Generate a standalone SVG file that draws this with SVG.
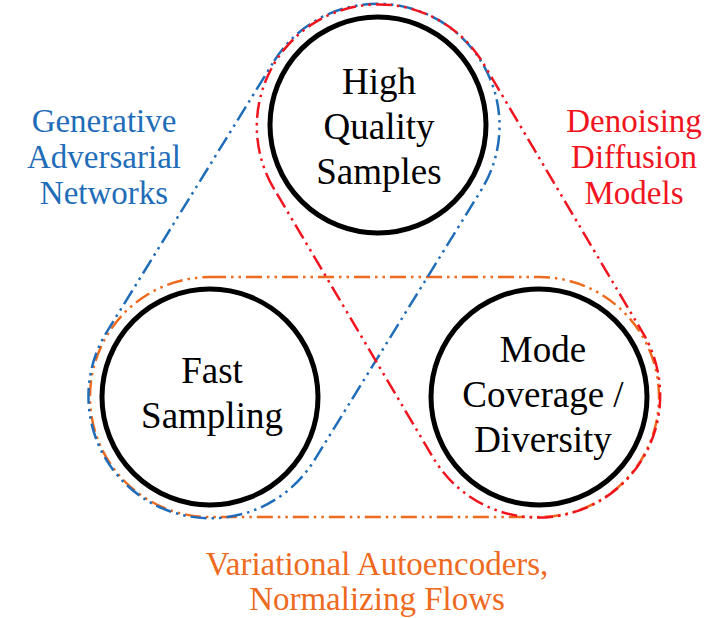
<svg xmlns="http://www.w3.org/2000/svg" width="708" height="618" viewBox="0 0 708 618">
<style>
.node circle{fill:#ffffff;stroke:#000000;stroke-width:5}
.hull{fill:none;stroke-width:2.5;stroke-dasharray:16 5 2.5 5 2.5 5}
.serif{font-family:"Liberation Serif","Times New Roman",Times,Tinos,"Noto Serif","DejaVu Serif",serif}
</style>
<rect width="708" height="618" fill="#ffffff"/>
<g id="nodes" class="serif" font-size="37" text-anchor="middle" fill="#000000">
<g id="node-high-quality" class="node">
<circle cx="378" cy="125" r="108"/>
<text x="379" y="94">High</text>
<text x="379" y="139">Quality</text>
<text x="379" y="184">Samples</text>
</g>
<g id="node-fast-sampling" class="node">
<circle cx="210" cy="397" r="108"/>
<text x="212" y="383">Fast</text>
<text x="212" y="428">Sampling</text>
</g>
<g id="node-mode-coverage" class="node">
<circle cx="539" cy="397" r="108"/>
<text x="543" y="362">Mode</text>
<text x="543" y="407">Coverage /</text>
<text x="543" y="452">Diversity</text>
</g>
</g>
<g id="connectors">
<path id="hull-vae" class="hull" stroke="#EE6A1E" d="M210,277 L539,277 A120,120 0 0 1 539,517 L210,517 A120,120 0 0 1 210,277 Z"/>
<path id="hull-gan" class="hull" stroke="#1F6DB8" d="M274.2,60.9 A122,122 0 0 1 481.8,189.1 L313.8,461.1 A122,122 0 0 1 106.2,332.9 Z"/>
<path id="hull-ddm" class="hull" stroke="#F0141E" d="M273.0,187.1 A122,122 0 0 1 483.0,62.9 L644.0,334.9 A122,122 0 0 1 434.0,459.1 Z"/>
</g>
<g id="labels" class="serif" font-size="33" text-anchor="middle">
<g id="label-gan" fill="#1F6DB8">
<text x="104" y="132">Generative</text>
<text x="104" y="168">Adversarial</text>
<text x="104" y="204">Networks</text>
</g>
<g id="label-ddm" fill="#F0141E">
<text x="634" y="132">Denoising</text>
<text x="634" y="168">Diffusion</text>
<text x="634" y="204">Models</text>
</g>
<g id="label-vae" fill="#EE6A1E">
<text x="377" y="575">Variational Autoencoders,</text>
<text x="377" y="610">Normalizing Flows</text>
</g>
</g>
</svg>
